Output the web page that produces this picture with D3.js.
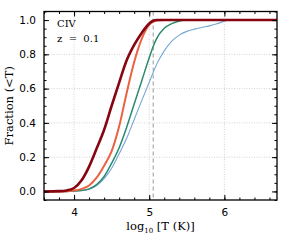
<!DOCTYPE html>
<html lang="en">
<head>
  <meta charset="utf-8">
  <script src="https://d3js.org/d3.v7.min.js"></script>
  <style>
    body { margin: 0; background: #fff; }
  </style>
</head>
<body>
<svg width="291" height="242"></svg>
<script>
// log10 T grid and cumulative fractions for each curve
var logT = [3.6, 3.8, 3.9, 4.0, 4.1, 4.2, 4.3, 4.4, 4.5, 4.6, 4.7, 4.8, 4.9, 5.0, 5.05, 5.1, 5.2, 5.3, 5.4, 5.5, 5.6, 5.7, 5.8, 5.9, 6.0, 6.1, 6.7];
var darkRed = [0, 0.002, 0.006, 0.02, 0.065, 0.145, 0.25, 0.36, 0.5, 0.635, 0.765, 0.855, 0.925, 0.98, 0.996, 1, 1, 1, 1, 1, 1, 1, 1, 1, 1, 1, 1];
var orange  = [0, 0, 0.001, 0.005, 0.015, 0.035, 0.08, 0.15, 0.235, 0.38, 0.575, 0.755, 0.89, 0.972, 0.99, 0.998, 1, 1, 1, 1, 1, 1, 1, 1, 1, 1, 1];
var green   = [0, 0, 0, 0.002, 0.006, 0.015, 0.04, 0.087, 0.165, 0.255, 0.375, 0.51, 0.645, 0.78, 0.843, 0.893, 0.952, 0.979, 0.994, 1, 1, 1, 1, 1, 1, 1, 1];
var blue    = [0, 0, 0, 0.002, 0.005, 0.013, 0.035, 0.075, 0.135, 0.22, 0.31, 0.42, 0.53, 0.637, 0.692, 0.743, 0.82, 0.877, 0.912, 0.934, 0.947, 0.957, 0.966, 0.978, 0.994, 1, 1];
var xTicks = [4, 5, 6];
var yTicks = [0, 0.2, 0.4, 0.6, 0.8, 1.0];
var peakT = 5.053;

var svg = d3.select("svg");
var pLeft = 44, pRight = 277, pTop = 11.5, pBottom = 200;

var x = d3.scaleLinear().domain([3.6, 6.7]).range([pLeft, pRight]);
var y = d3.scaleLinear().domain([-0.05, 1.05]).range([pBottom, pTop]);

// grid
var grid = svg.append("g").attr("stroke", "#c8c8c8").attr("stroke-width", 0.8).attr("stroke-dasharray", "1,1.5");
grid.selectAll(".gx").data(xTicks).enter().append("line")
  .attr("x1", function(d) { return x(d); }).attr("x2", function(d) { return x(d); })
  .attr("y1", pTop).attr("y2", pBottom);
grid.selectAll(".gy").data(yTicks.slice(1, 5)).enter().append("line")
  .attr("y1", function(d) { return y(d); }).attr("y2", function(d) { return y(d); })
  .attr("x1", pLeft).attr("x2", pRight);

// dashed peak temperature
svg.append("line")
  .attr("x1", x(peakT)).attr("x2", x(peakT))
  .attr("y1", pTop).attr("y2", pBottom)
  .attr("stroke", "#999").attr("stroke-width", 1).attr("stroke-dasharray", "4,3");

// curves
var line = d3.line()
  .x(function(d) { return x(d[0]); })
  .y(function(d) { return y(d[1]); })
  .curve(d3.curveMonotoneX);

var series = [
  { v: blue, c: "#74a6d6", w: 1.1 },
  { v: green, c: "#2b8a6e", w: 1.5 },
  { v: orange, c: "#ea6242", w: 2 },
  { v: darkRed, c: "#870510", w: 2.6 }
];
svg.append("g").selectAll("path").data(series).enter().append("path")
  .attr("d", function(s) { return line(d3.zip(logT, s.v)); })
  .attr("fill", "none")
  .attr("stroke", function(s) { return s.c; })
  .attr("stroke-width", function(s) { return s.w; })
  .attr("stroke-linejoin", "round");

// axes with inward ticks on all four sides
var xMinor = d3.range(3.6, 6.71, 0.2);
var yMinor = d3.range(-0.05, 1.051, 0.05);
var fontSans = "DejaVu Sans, sans-serif";
var fontSerif = "DejaVu Serif, serif";

function styleAxis(g) {
  g.select(".domain").remove();
  g.selectAll("line").attr("stroke", "#000").attr("stroke-width", 1);
  g.selectAll("text").attr("font-family", fontSans).attr("font-size", "10.5px").attr("fill", "#000");
}

svg.append("g").attr("transform", "translate(0," + pBottom + ")")
  .call(d3.axisBottom(x).tickValues(xTicks).tickFormat(d3.format("d")).tickSizeInner(-5).tickPadding(9))
  .call(styleAxis);
svg.append("g").attr("transform", "translate(0," + pBottom + ")")
  .call(d3.axisBottom(x).tickValues(xMinor).tickFormat("").tickSizeInner(-2.5)).call(styleAxis);
svg.append("g").attr("transform", "translate(0," + pTop + ")")
  .call(d3.axisTop(x).tickValues(xTicks).tickFormat("").tickSizeInner(-5)).call(styleAxis);
svg.append("g").attr("transform", "translate(0," + pTop + ")")
  .call(d3.axisTop(x).tickValues(xMinor).tickFormat("").tickSizeInner(-2.5)).call(styleAxis);

svg.append("g").attr("transform", "translate(" + pLeft + ",0)")
  .call(d3.axisLeft(y).tickValues(yTicks).tickFormat(d3.format(".1f")).tickSizeInner(-5).tickPadding(8))
  .call(styleAxis);
svg.append("g").attr("transform", "translate(" + pLeft + ",0)")
  .call(d3.axisLeft(y).tickValues(yMinor).tickFormat("").tickSizeInner(-2.5)).call(styleAxis);
svg.append("g").attr("transform", "translate(" + pRight + ",0)")
  .call(d3.axisRight(y).tickValues(yTicks).tickFormat("").tickSizeInner(-5)).call(styleAxis);
svg.append("g").attr("transform", "translate(" + pRight + ",0)")
  .call(d3.axisRight(y).tickValues(yMinor).tickFormat("").tickSizeInner(-2.5)).call(styleAxis);

// frame
svg.append("rect")
  .attr("x", pLeft).attr("y", pTop)
  .attr("width", pRight - pLeft).attr("height", pBottom - pTop)
  .attr("fill", "none").attr("stroke", "#000").attr("stroke-width", 1.3);

// labels
svg.append("text")
  .attr("x", 57).attr("y", 27)
  .attr("font-family", fontSerif).attr("font-size", "10px")
  .text("CIV");
svg.append("text")
  .attr("x", 57).attr("y", 42)
  .attr("font-family", fontSerif).attr("font-size", "10px")
  .attr("xml:space", "preserve")
  .text("z  =  0.1");

svg.append("text")
  .attr("transform", "translate(13," + ((pTop + pBottom) / 2) + ") rotate(-90)")
  .attr("text-anchor", "middle")
  .attr("font-family", fontSerif).attr("font-size", "11.5px")
  .text("Fraction (<T)");

var xt = svg.append("text")
  .attr("x", (pLeft + pRight) / 2).attr("y", 230)
  .attr("text-anchor", "middle")
  .attr("font-family", fontSerif).attr("font-size", "11.5px");
xt.append("tspan").text("log");
xt.append("tspan").attr("font-size", "7px").attr("dy", 3).text("10");
xt.append("tspan").attr("dy", -3).text(" [T (K)]");
</script>
</body>
</html>
